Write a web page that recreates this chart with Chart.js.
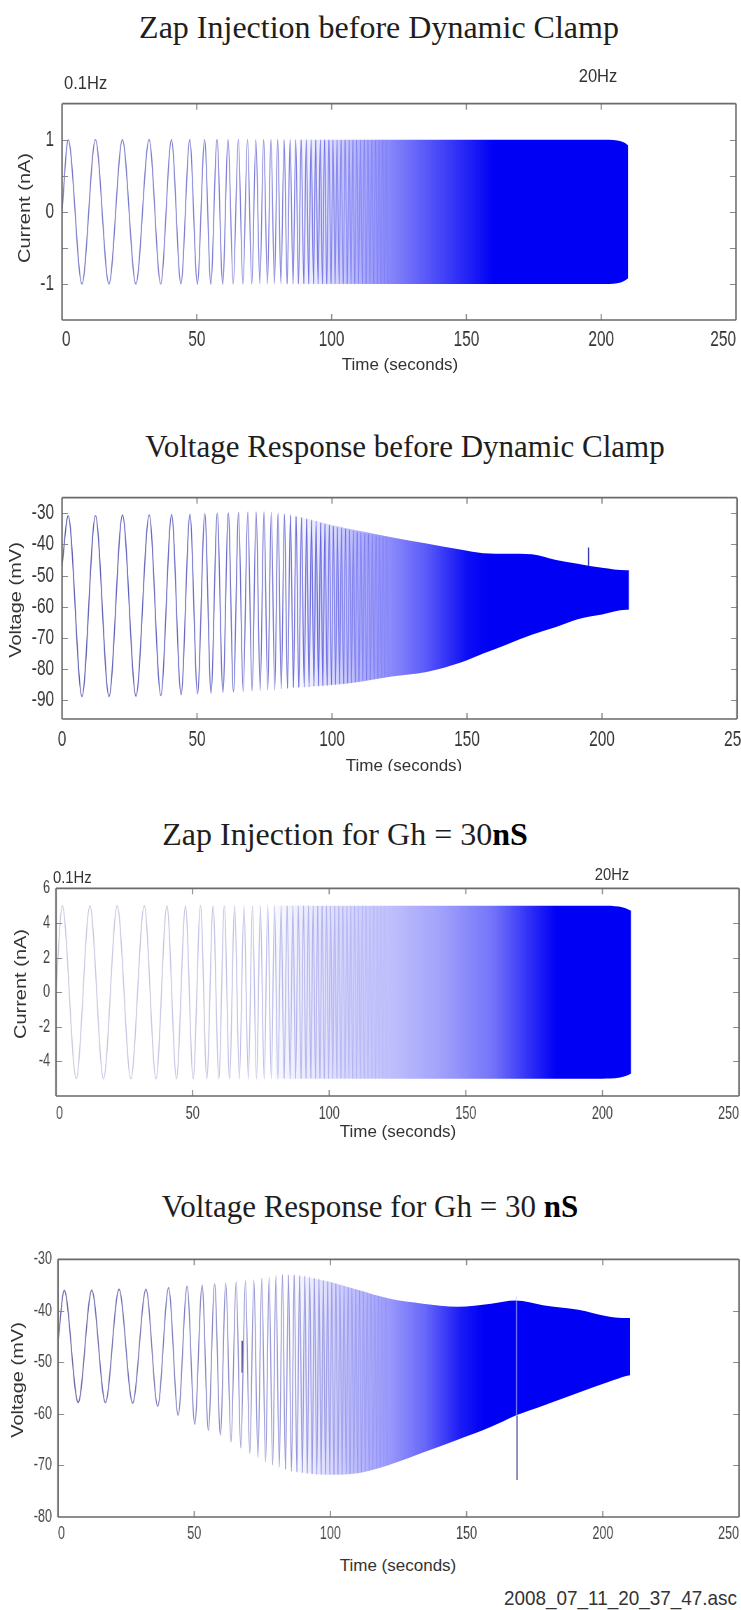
<!DOCTYPE html>
<html>
<head>
<title>Zap Injection and Voltage Response</title>
<script src="https://cdn.jsdelivr.net/npm/chart.js"></script>
<style>
  body { margin: 0; background: #fff; width: 741px; height: 1610px; position: relative; overflow: hidden; }
  canvas { position: absolute; left: 0; transform-origin: 0 0; }
  .title { position: absolute; font-family: "Liberation Serif", "Times New Roman", serif; font-size: 31px; line-height: 1; color: #1e1e1e; white-space: nowrap; transform: translate(-50%, -50%); }
  .title .ns { color: #000; font-weight: bold; }
  .lbl { position: absolute; white-space: nowrap; color: #333; line-height: 1; font-family: "Liberation Sans", Arial, sans-serif; transform: translate(-50%, -50%) scaleX(0.87); }
  .left { transform-origin: 0 50%; transform: translate(0, -50%) scaleX(0.87); }
  .xt { font-size: 17px; transform: translate(-50%, -50%); }
  .yt { font-size: 20px; transform: translate(-50%, -50%) rotate(-90deg) scaleY(0.8); }
  .clip { position: absolute; left: 0; width: 741px; overflow: hidden; }
</style>
</head>
<body>
<div class="title" style="left:379px; top:27px; font-size:32px;">Zap Injection before Dynamic Clamp</div>
<div class="title" style="left:405px; top:446px;">Voltage Response before Dynamic Clamp</div>
<div class="title" style="left:345px; top:834px; font-size:32px;">Zap Injection for Gh = 30<span class="ns">nS</span></div>
<div class="title" style="left:370px; top:1206px;">Voltage Response for Gh = 30 <span class="ns">nS</span></div>

<canvas id="zap1"></canvas>
<canvas id="volt1"></canvas>
<canvas id="zap2"></canvas>
<canvas id="volt2"></canvas>

<div class="lbl left" style="left:64px; top:82px; font-size:19px;">0.1Hz</div>
<div class="lbl" style="left:598px; top:75px; font-size:19px;">20Hz</div>
<div class="lbl xt" style="left:400px; top:364px;">Time (seconds)</div>
<div class="lbl yt" style="left:24px; top:208px;">Current (nA)</div>

<div class="clip" style="top:752px; height:19px;"><div class="lbl xt" style="left:404px; top:13px;">Time (seconds)</div></div>
<div class="lbl yt" style="left:15px; top:600px;">Voltage (mV)</div>

<div class="lbl left" style="left:53px; top:877px; font-size:17px;">0.1Hz</div>
<div class="lbl" style="left:612px; top:874px; font-size:17px;">20Hz</div>
<div class="lbl xt" style="left:398px; top:1131px;">Time (seconds)</div>
<div class="lbl yt" style="left:20px; top:984px;">Current (nA)</div>

<div class="lbl xt" style="left:398px; top:1565px;">Time (seconds)</div>
<div class="lbl yt" style="left:17px; top:1380px;">Voltage (mV)</div>
<div class="lbl" style="left:737px; top:1597px; font-size:21px; transform-origin:100% 50%; transform:translate(-100%,-50%) scaleX(0.9);">2008_07_11_20_37_47.asc</div>

<script>
// turning points of the zap stimulus (s), same sweep in all four panels
var peakTimes = [2.3, 12.4, 22.4, 32.3, 40.6, 47.4, 52.9, 57.5, 61.6, 65.4,
                 68.8, 71.9, 74.8, 77.5, 80.0, 82.4, 84.6, 86.7, 88.7, 90.6,
                 92.4, 94.1, 95.8, 97.4, 99.0, 100.5, 102.0, 103.5, 105.0, 106.5,
                 107.9, 109.3, 110.7, 112.1, 113.5, 114.9, 116.3, 117.6, 118.9, 120.2];
var troughTimes = [7.4, 17.4, 27.4, 36.6, 44.1, 50.2, 55.2, 59.6, 63.5, 67.1,
                   70.4, 73.4, 76.2, 78.8, 81.2, 83.5, 85.7, 87.7, 89.7, 91.5,
                   93.3, 95.0, 96.6, 98.2, 99.8, 101.3, 102.8, 104.3, 105.8, 107.2,
                   108.6, 110.0, 111.4, 112.8, 114.2, 115.6, 117.0, 118.3, 119.6, 120.9];
var xTicks = [0, 50, 100, 150, 200, 250];

// zap injection before dynamic clamp (nA)
var zap1Start = [0, 0];
var zap1PeakV = [1, 1, 1, 1, 1, 1, 1, 1, 1, 1,  1, 1, 1, 1, 1, 1, 1, 1, 1, 1,
                 1, 1, 1, 1, 1, 1, 1, 1, 1, 1,  1, 1, 1, 1, 1, 1, 1, 1, 1, 1];
var zap1TroughV = [-1, -1, -1, -1, -1, -1, -1, -1, -1, -1,  -1, -1, -1, -1, -1, -1, -1, -1, -1, -1,
                   -1, -1, -1, -1, -1, -1, -1, -1, -1, -1,  -1, -1, -1, -1, -1, -1, -1, -1, -1, -1];
var zap1BandT = [85, 120, 160, 200, 206, 208.5, 210];
var zap1BandHi = [1, 1, 1, 1, 0.99, 0.96, 0.92];
var zap1BandLo = [-1, -1, -1, -1, -0.99, -0.96, -0.92];
var zap1YTicks = [-1, -0.5, 0, 0.5, 1];
var zap1YLabels = ['-1', '', '0', '', '1'];

// voltage response before dynamic clamp (mV)
var volt1Start = [0, -47];
var volt1PeakV = [-30.8, -30.8, -30.6, -30.6, -30.4, -30.3, -30.2, -30.0, -29.9, -29.8,
                  -29.7, -29.6, -29.6, -29.8, -30.0, -30.3, -30.6, -31.0, -31.4, -31.8,
                  -32.2, -32.6, -33.0, -33.4, -33.8, -34.1, -34.4, -34.7, -35.0, -35.3,
                  -35.6, -35.9, -36.1, -36.4, -36.6, -36.9, -37.1, -37.3, -37.5, -37.7];
var volt1TroughV = [-88.8, -88.8, -88.7, -88.5, -88.2, -87.9, -87.7, -87.5, -87.3, -87.1,
                    -86.9, -86.8, -86.7, -86.6, -86.4, -86.2, -86.0, -85.9, -85.8, -85.7,
                    -85.6, -85.5, -85.4, -85.3, -85.1, -85.0, -84.9, -84.8, -84.6, -84.5,
                    -84.3, -84.1, -83.9, -83.7, -83.5, -83.3, -83.1, -82.9, -82.7, -82.5];
var volt1BandT = [85, 100, 110, 122, 135, 148, 156, 165, 174, 183, 191, 200, 209, 210];
var volt1BandHi = [-30.3, -33.8, -35.6, -37.7, -39.7, -41.7, -42.8, -43.0, -43.2, -45.0, -46.2, -47.5, -48.3, -48.3];
var volt1BandLo = [-86.0, -85.1, -84.1, -82.4, -80.9, -77.8, -75.0, -72.0, -69.0, -66.5, -64.0, -62.5, -61.0, -61.0];
var volt1SpikeT = [195, 195];
var volt1SpikeV = [-47.0, -41.0];
var volt1YTicks = [-90, -80, -70, -60, -50, -40, -30];
var volt1YLabels = ['-90', '-80', '-70', '-60', '-50', '-40', '-30'];

// zap injection for Gh = 30 nS (nA)
var zap2Start = [0, 0];
var zap2PeakV = [5, 5, 5, 5, 5, 5, 5, 5, 5, 5,  5, 5, 5, 5, 5, 5, 5, 5, 5, 5,
                 5, 5, 5, 5, 5, 5, 5, 5, 5, 5,  5, 5, 5, 5, 5, 5, 5, 5, 5, 5];
var zap2TroughV = [-5, -5, -5, -5, -5, -5, -5, -5, -5, -5,  -5, -5, -5, -5, -5, -5, -5, -5, -5, -5,
                   -5, -5, -5, -5, -5, -5, -5, -5, -5, -5,  -5, -5, -5, -5, -5, -5, -5, -5, -5, -5];
var zap2BandT = [80, 120, 160, 200, 206, 208.5, 210.5];
var zap2BandHi = [5, 5, 5, 5, 4.95, 4.85, 4.7];
var zap2BandLo = [-5, -5, -5, -5, -4.95, -4.85, -4.7];
var zap2YTicks = [-4, -2, 0, 2, 4, 6];
var zap2YLabels = ['-4', '-2', '0', '2', '4', '6'];

// voltage response for Gh = 30 nS (mV)
var volt2Start = [0, -46];
var volt2PeakV = [-36.0, -36.0, -35.8, -35.8, -35.5, -35.2, -35.0, -34.8, -34.6, -34.4,
                  -34.2, -34.0, -33.7, -33.4, -33.2, -33.0, -33.0, -33.0, -33.1, -33.2,
                  -33.4, -33.6, -33.8, -34.0, -34.2, -34.5, -34.7, -35.0, -35.2, -35.4,
                  -35.6, -35.8, -36.0, -36.2, -36.4, -36.6, -36.8, -37.0, -37.2, -37.4];
var volt2TroughV = [-57.8, -57.8, -57.9, -58.5, -60.3, -62.0, -63.2, -64.1, -65.4, -66.6,
                    -67.6, -68.5, -69.3, -69.9, -70.4, -70.8, -71.1, -71.3, -71.5, -71.6,
                    -71.7, -71.8, -71.8, -71.8, -71.8, -71.8, -71.8, -71.8, -71.7, -71.7,
                    -71.6, -71.5, -71.4, -71.2, -71.0, -70.8, -70.6, -70.4, -70.2, -70.0];
var volt2BandT = [85, 100, 110, 121.5, 134, 146.7, 159, 168, 178, 191, 202, 209, 210];
var volt2BandHi = [-33.0, -34.4, -35.9, -37.6, -38.6, -39.2, -38.6, -38.0, -38.9, -39.8, -41.1, -41.4, -41.4];
var volt2BandLo = [-71.1, -71.8, -71.5, -69.9, -67.5, -65.0, -62.5, -60.3, -58.4, -55.9, -53.8, -52.6, -52.5];
var volt2SpikeT = [168.5, 168.5];
var volt2SpikeV = [-60.3, -72.8];
var volt2StreakT = [168.3, 168.3];
var volt2StreakV = [-37.2, -60.3];
var volt2GlitchT = [67.6, 67.6];
var volt2GlitchV = [-45.8, -52.0];
var volt2YTicks = [-80, -70, -60, -50, -40, -30];
var volt2YLabels = ['-80', '-70', '-60', '-50', '-40', '-30'];

// the scanned figure is squeezed sideways, so each canvas is drawn wider and squashed
var SQ = 0.7;
var WU = Math.round(790 / SQ);   // a bit wider than the page so edge labels may be cut like the scan

function trace(start, peaksV, troughsV) {
  var pts = [{x: start[0], y: start[1]}];
  for (var i = 0; i < peakTimes.length; i++) {
    pts.push({x: peakTimes[i], y: peaksV[i]});
    pts.push({x: troughTimes[i], y: troughsV[i]});
  }
  return pts;
}
function pairs(ts, vs) {
  return ts.map(function (t, i) { return {x: t, y: vs[i]}; });
}

// colour of the dense part: blue with rising opacity along time
function bandFill(stops) {
  return function (c) {
    var chart = c.chart;
    if (!chart.chartArea) return 'rgba(0,0,245,0.5)';
    var xs = chart.scales.x;
    var g = chart.ctx.createLinearGradient(xs.getPixelForValue(0), 0, xs.getPixelForValue(250), 0);
    stops.forEach(function (s) { g.addColorStop(s[0] / 250, 'rgba(0,0,245,' + s[1] + ')'); });
    return g;
  };
}
function lineColor(stops) {
  return function (c) {
    var t = c.p0.parsed.x, a = stops[0], b = stops[stops.length - 1];
    for (var i = 0; i < stops.length - 1; i++) {
      if (t >= stops[i][0] && t <= stops[i + 1][0]) { a = stops[i]; b = stops[i + 1]; break; }
    }
    var f = b[0] === a[0] ? 0 : Math.min(1, Math.max(0, (t - a[0]) / (b[0] - a[0])));
    var c4 = a[1].map(function (v, k) { return v + (b[1][k] - v) * f; });
    return 'rgba(' + Math.round(c4[0]) + ',' + Math.round(c4[1]) + ',' + Math.round(c4[2]) + ',' + c4[3].toFixed(2) + ')';
  };
}

var boxPlugin = {
  id: 'box',
  afterDatasetsDraw: function (chart, args, opts) {
    var ctx = chart.ctx, a = chart.chartArea, sx = chart.scales.x, sy = chart.scales.y;
    ctx.save();
    ctx.strokeStyle = opts.tickColor;
    ctx.lineWidth = 1;
    ctx.beginPath();
    sy.ticks.forEach(function (t) {
      var py = Math.round(sy.getPixelForValue(t.value)) + 0.5;
      if (py <= a.top + 2 || py >= a.bottom - 2) return;
      ctx.moveTo(a.left, py); ctx.lineTo(a.left + 6 / SQ, py);
      ctx.moveTo(a.right, py); ctx.lineTo(a.right - 6 / SQ, py);
    });
    ctx.stroke();
    ctx.lineWidth = 1.2 / SQ;
    ctx.beginPath();
    sx.ticks.forEach(function (t) {
      var px = sx.getPixelForValue(t.value);
      if (px <= a.left + 3 || px >= a.right - 3) return;
      ctx.moveTo(px, a.bottom); ctx.lineTo(px, a.bottom - 6);
      ctx.moveTo(px, a.top); ctx.lineTo(px, a.top + 6);
    });
    ctx.stroke();
    ctx.strokeStyle = opts.color;
    ctx.lineWidth = 1.6;
    ctx.beginPath();
    ctx.moveTo(a.left, a.top); ctx.lineTo(a.right, a.top);
    ctx.moveTo(a.left, a.bottom); ctx.lineTo(a.right, a.bottom);
    ctx.stroke();
    ctx.lineWidth = 1.6 / SQ;
    ctx.beginPath();
    ctx.moveTo(a.left, a.top); ctx.lineTo(a.left, a.bottom);
    ctx.moveTo(a.right, a.top); ctx.lineTo(a.right, a.bottom);
    ctx.stroke();
    ctx.restore();
  }
};

var SANS = '"Liberation Sans", Arial, sans-serif';

function makePanel(id, box, p) {
  var cv = document.getElementById(id);
  var padTop = 14, axisH = 36;
  var left = box.left / SQ, right = box.right / SQ;
  cv.width = WU;
  cv.height = box.bottom - box.top + padTop + axisH;
  cv.style.top = (box.top - padTop) + 'px';
  cv.style.transform = 'scaleX(' + SQ + ')';

  var sets = [{
    data: trace(p.start, p.peaks, p.troughs),
    borderWidth: 1.5,
    segment: {borderColor: lineColor(p.lineStops)},
    borderColor: 'rgb(110,110,200)',
    cubicInterpolationMode: 'monotone',
    pointRadius: 0,
    fill: false
  }];
  (p.extra || []).forEach(function (e) {
    sets.push({data: pairs(e.t, e.v), borderColor: e.color, borderWidth: e.width / SQ, pointRadius: 0, fill: false});
  });
  sets.push({data: pairs(p.bandT, p.bandHi), borderWidth: 0, borderColor: 'rgba(0,0,0,0)', pointRadius: 0,
             cubicInterpolationMode: 'monotone', fill: false});
  sets.push({data: pairs(p.bandT, p.bandLo), borderWidth: 0, borderColor: 'rgba(0,0,0,0)', pointRadius: 0,
             cubicInterpolationMode: 'monotone', fill: '-1', backgroundColor: bandFill(p.fillStops)});

  new Chart(cv, {
    type: 'line',
    data: {datasets: sets},
    plugins: [boxPlugin],
    options: {
      responsive: false,
      animation: false,
      events: [],
      layout: {padding: {top: padTop, left: 4, right: WU - right, bottom: 0}},
      plugins: {
        legend: {display: false},
        tooltip: {enabled: false},
        box: {color: '#6a6a6a', tickColor: '#8a8a8a'}
      },
      scales: {
        x: {
          type: 'linear', min: 0, max: 250,
          afterBuildTicks: function (s) { s.ticks = xTicks.map(function (v) { return {value: v}; }); },
          afterFit: function (s) { s.height = axisH; },
          grid: {display: false, drawTicks: false}, border: {display: false},
          ticks: {align: p.xAlign, padding: p.xPad, color: p.tickColor, maxRotation: 0, autoSkip: false,
                  font: {family: SANS, size: p.tickSize}}
        },
        y: {
          type: 'linear', min: box.ymin, max: box.ymax,
          afterBuildTicks: function (s) { s.ticks = p.yTicks.map(function (v) { return {value: v}; }); },
          afterFit: function (s) { s.width = left - 4; },
          grid: {display: false, drawTicks: false}, border: {display: false},
          ticks: {padding: p.yPad / SQ, color: p.tickColor, autoSkip: false,
                  font: {family: SANS, size: p.tickSize},
                  callback: function (v, i) { return p.yLabels[i]; }}
        }
      }
    }
  });
}

makePanel('zap1', {left: 62, right: 736, top: 93, bottom: 320, ymin: -1.5, ymax: 1.5}, {
  start: zap1Start, peaks: zap1PeakV, troughs: zap1TroughV,
  bandT: zap1BandT, bandHi: zap1BandHi, bandLo: zap1BandLo,
  yTicks: zap1YTicks, yLabels: zap1YLabels,
  lineStops: [[0, [115, 115, 195, 1]], [80, [125, 125, 220, 1]], [95, [110, 110, 230, 0.95]], [121, [80, 80, 240, 0.1]]],
  fillStops: [[85, 0], [100, 0.15], [110, 0.3], [120, 0.45], [140, 0.72], [160, 1]],
  xAlign: 'inner', xPad: 7, yPad: 8, tickColor: '#333', tickSize: 22
});

makePanel('volt1', {left: 62, right: 737, top: 487, bottom: 719, ymin: -96, ymax: -25}, {
  start: volt1Start, peaks: volt1PeakV, troughs: volt1TroughV,
  bandT: volt1BandT, bandHi: volt1BandHi, bandLo: volt1BandLo,
  yTicks: volt1YTicks, yLabels: volt1YLabels,
  extra: [{t: volt1SpikeT, v: volt1SpikeV, color: 'rgb(40,40,170)', width: 1.2}],
  lineStops: [[0, [85, 85, 175, 1]], [80, [110, 110, 210, 1]], [95, [95, 95, 225, 0.95]], [121, [70, 70, 230, 0.1]]],
  fillStops: [[85, 0], [100, 0.15], [110, 0.3], [120, 0.43], [135, 0.65], [150, 0.95], [158, 1]],
  xAlign: 'center', xPad: 8, yPad: 8, tickColor: '#333', tickSize: 22
});

makePanel('zap2', {left: 56, right: 739, top: 883, bottom: 1096, ymin: -6, ymax: 6}, {
  start: zap2Start, peaks: zap2PeakV, troughs: zap2TroughV,
  bandT: zap2BandT, bandHi: zap2BandHi, bandLo: zap2BandLo,
  yTicks: zap2YTicks, yLabels: zap2YLabels,
  lineStops: [[0, [200, 200, 222, 1]], [60, [192, 192, 228, 1]], [95, [172, 172, 235, 0.95]], [121, [150, 150, 240, 0.1]]],
  fillStops: [[75, 0], [100, 0.12], [120, 0.24], [140, 0.36], [160, 0.55], [175, 0.85], [183, 1]],
  xAlign: 'inner', xPad: 7, yPad: 6, tickColor: '#444', tickSize: 18
});

makePanel('volt2', {left: 58, right: 739, top: 1254, bottom: 1517, ymin: -80, ymax: -30}, {
  start: volt2Start, peaks: volt2PeakV, troughs: volt2TroughV,
  bandT: volt2BandT, bandHi: volt2BandHi, bandLo: volt2BandLo,
  yTicks: volt2YTicks, yLabels: volt2YLabels,
  extra: [
    {t: volt2SpikeT, v: volt2SpikeV, color: 'rgb(70,70,150)', width: 1.3},
    {t: volt2StreakT, v: volt2StreakV, color: 'rgba(200,200,255,0.6)', width: 1.3},
    {t: volt2GlitchT, v: volt2GlitchV, color: 'rgb(60,60,140)', width: 1.3}
  ],
  lineStops: [[0, [95, 95, 165, 1]], [60, [135, 135, 200, 1]], [95, [150, 150, 225, 0.95]], [121, [110, 110, 230, 0.1]]],
  fillStops: [[85, 0], [100, 0.15], [110, 0.27], [120, 0.38], [135, 0.6], [148, 0.9], [156, 1]],
  xAlign: 'inner', xPad: 6, yPad: 6, tickColor: '#444', tickSize: 18
});
</script>
</body>
</html>
